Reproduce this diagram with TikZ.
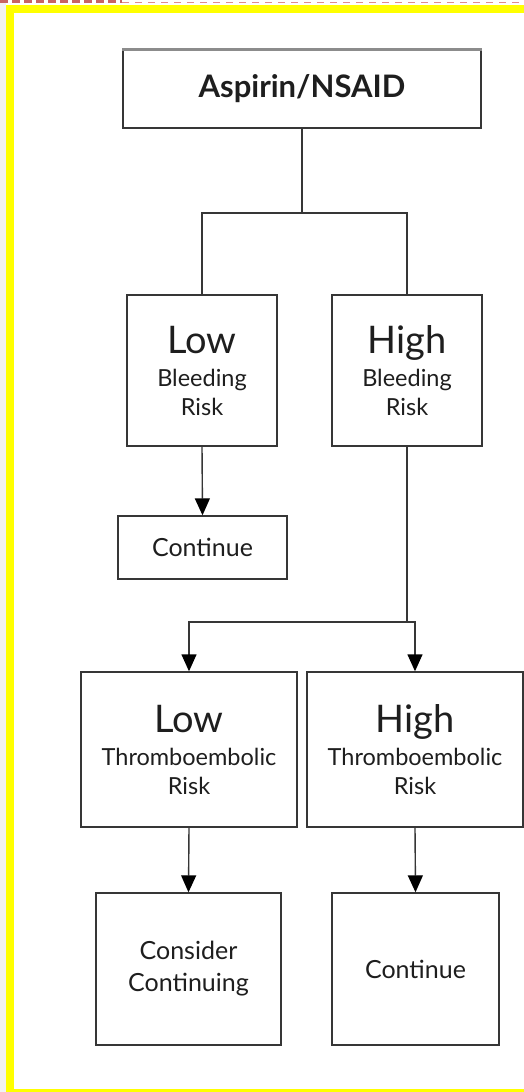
\documentclass[tikz,border=0pt]{standalone}
\usepackage{fontspec}
\setmainfont{Lato}
\usetikzlibrary{arrows.meta}
\definecolor{lin}{HTML}{363636}
\definecolor{txt}{HTML}{1E1E1E}
\definecolor{frameyellow}{HTML}{FFFF00}
\definecolor{dashA}{HTML}{C86464}
\definecolor{dashB}{HTML}{E08C8C}
\newcommand{\bigT}{\fontsize{38}{40}\selectfont}
\newcommand{\smallT}{\fontsize{23.5}{29}\selectfont}
\newcommand{\midT}{\fontsize{25}{32}\selectfont}
\tikzset{
  box/.style={draw=lin, line width=1.4pt, fill=white, text=txt, align=center, inner sep=0pt},
  con/.style={draw=lin, line width=1.4pt},
  arr/.style={con, -{Triangle[length=17pt,width=15pt,fill=black,color=black]}},
}
\begin{document}
\begin{tikzpicture}[x=1pt,y=-1pt]
\useasboundingbox (0,0) rectangle (524,1092);
\fill[white] (0,0) rectangle (524,1092);
% page frame
\fill[fill=black!5] (0,0) rectangle (6,1092);
\fill[fill=frameyellow] (6,5) rectangle (13.5,1092);
\fill[fill=frameyellow] (6,5) rectangle (524,13);
\fill[fill=frameyellow] (6,1089) rectangle (524,1092);
\draw[draw=dashA, line width=2.5pt, dash pattern=on 8pt off 4pt] (0,1.5) -- (122,1.5);
\draw[draw=dashB, line width=1pt, dash pattern=on 7pt off 6pt] (122,2.5) -- (524,2.5);

% nodes
\node[box, minimum width=358pt, minimum height=78pt, font=\fontsize{31}{32}\selectfont\bfseries] (top) at (302,89)
  {Aspirin/NSAID};
\draw[black!45, line width=3pt] (top.north west) -- (top.north east);

\node[box, font=\smallT, minimum width=150pt, minimum height=151pt] (lowB) at (202,370.5)
  {{\bigT Low}\\[4pt]Bleeding\\Risk};
\node[box, font=\smallT, minimum width=150pt, minimum height=151pt] (highB) at (407,370.5)
  {{\bigT High}\\[4pt]Bleeding\\Risk};
\node[box, font=\midT, minimum width=169pt, minimum height=63pt] (cont1) at (202.5,547.5)
  {Continue};
\node[box, font=\smallT, minimum width=216pt, minimum height=155pt] (lowT) at (189,749.5)
  {{\bigT Low}\\[4pt]Thromboembolic\\Risk};
\node[box, font=\smallT, minimum width=216pt, minimum height=155pt] (highT) at (415,749.5)
  {{\bigT High}\\[4pt]Thromboembolic\\Risk};
\node[box, font=\midT, minimum width=185pt, minimum height=152pt] (consider) at (188.5,969)
  {Consider\\Continuing};
\node[box, font=\midT, minimum width=167pt, minimum height=152pt] (cont2) at (415.5,969)
  {Continue};

% connectors
\coordinate (j1) at (302,213);
\coordinate (j2) at (407,622);
\draw[con] (top.south) -- (j1);
\draw[con] (lowB.north) |- (j1) -| (highB.north);
\draw[arr] (lowB.south) -- (cont1.north);
\draw[con] (highB.south) -- (j2);
\draw[arr] (j2) -| (lowT.north);
\draw[arr] (j2) -| (highT.north);
\draw[arr] (lowT.south) -- (consider.north);
\draw[arr] (highT.south) -- (cont2.north);
\end{tikzpicture}
\end{document}
